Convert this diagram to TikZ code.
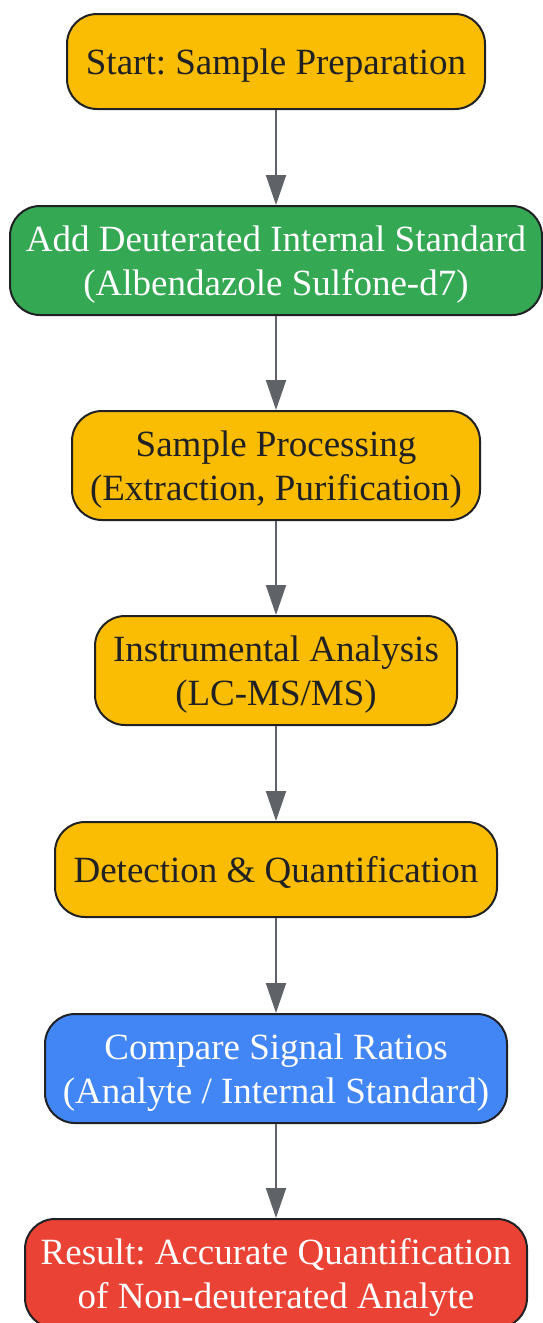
\documentclass[tikz,border=0pt]{standalone}
\usepackage{fontspec}
\setmainfont{Liberation Serif}
\usetikzlibrary{arrows.meta}
\definecolor{stepyellow}{HTML}{FBBC04}
\definecolor{stepgreen}{HTML}{34A853}
\definecolor{stepblue}{HTML}{4285F4}
\definecolor{stepred}{HTML}{EA4335}
\definecolor{edgegray}{HTML}{5F6368}
\definecolor{framedark}{HTML}{202124}
\tikzset{
  stepbox/.style={draw=framedark, line width=2pt, rounded corners=30pt, align=center,
    inner sep=0pt, font=\fontsize{37}{44}\selectfont\frenchspacing, text=framedark,
    text depth=0pt},
  oneline/.style={stepbox, text height=25.5pt, minimum height=95pt},
  twoline/.style={stepbox, text height=69.5pt, minimum height=109pt},
  flow/.style={-{Triangle[width=20pt,length=30pt]}, draw=edgegray, fill=edgegray, line width=2pt}
}
\begin{document}
\begin{tikzpicture}[x=1pt, y=-1pt]
  \useasboundingbox (0,0) rectangle (542,1323);
  \node[oneline, fill=stepyellow, minimum width=418pt] (start) at (276,61.5) {Start: Sample Preparation};
  \node[twoline, fill=stepgreen, text=white, minimum width=532pt] (addis) at (276,260.5) {Add Deuterated Internal Standard\\(Albendazole Sulfone-d7)};
  \node[twoline, fill=stepyellow, minimum width=408pt] (proc) at (276,465.5) {Sample Processing\\(Extraction, Purification)};
  \node[twoline, fill=stepyellow, minimum width=362pt] (instr) at (276,670.5) {Instrumental Analysis\\(LC-MS/MS)};
  \node[oneline, fill=stepyellow, minimum width=442pt] (detect) at (276,869.5) {Detection \& Quantification};
  \node[twoline, fill=stepblue, text=white, minimum width=462pt] (ratio) at (276,1068.5) {Compare Signal Ratios\\(Analyte / Internal Standard)};
  \node[twoline, fill=stepred, text=white, minimum width=502pt] (result) at (276,1273.5) {Result: Accurate Quantification\\of Non-deuterated Analyte};

  \draw[flow] (start) -- (addis);
  \draw[flow] (addis) -- (proc);
  \draw[flow] (proc) -- (instr);
  \draw[flow] (instr) -- (detect);
  \draw[flow] (detect) -- (ratio);
  \draw[flow] (ratio) -- (result);
\end{tikzpicture}
\end{document}
